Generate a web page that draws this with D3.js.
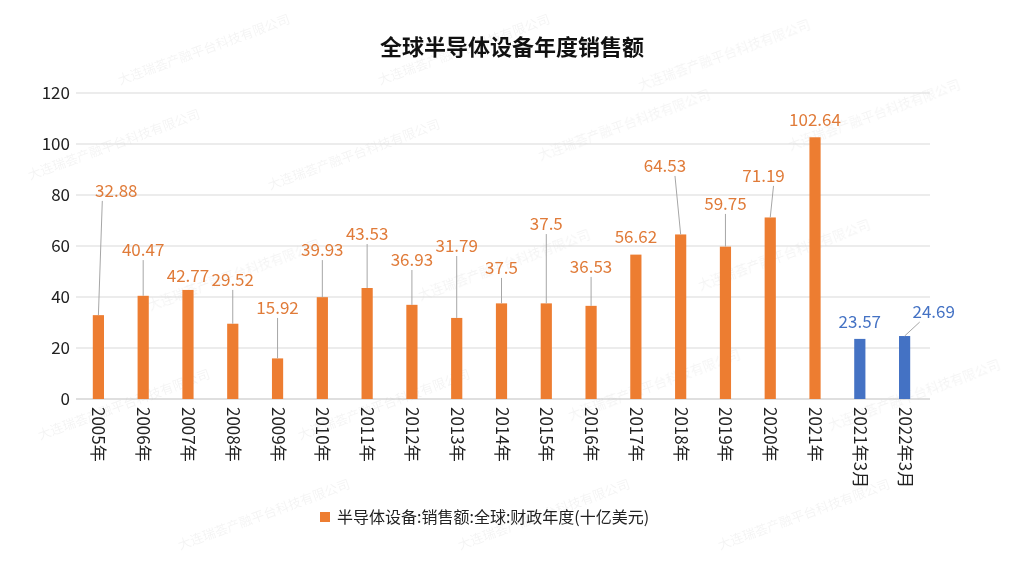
<!DOCTYPE html>
<html><head><meta charset="utf-8">
<script src="https://cdn.jsdelivr.net/npm/d3@7"></script>
<style>body{margin:0;background:#fff}text{font-family:"Noto Sans CJK SC","Noto Sans",sans-serif}</style>
</head><body><svg id="c" width="1024" height="576"></svg>
<script>
const categories=["2005年","2006年","2007年","2008年","2009年","2010年","2011年","2012年","2013年","2014年","2015年","2016年","2017年","2018年","2019年","2020年","2021年","2021年3月","2022年3月"];
const values=[32.88,40.47,42.77,29.52,15.92,39.93,43.53,36.93,31.79,37.5,37.5,36.53,56.62,64.53,59.75,71.19,102.64,23.57,24.69];
const yTicks=[0,20,40,60,80,100,120];
// label placement (value units / band units)
const labelY=[81.6,58.4,48.2,46.7,35.7,58.4,64.7,54.5,60,51.4,68.6,51.8,63.5,91.4,76.5,87.5,109.4,30.2,34.1];
const labelDX=[0.4,0,0,0,0,0,0,0,0,0,0,0,0,-0.35,0,-0.15,0,0,0.65];
const svg=d3.select("#c");
const x=d3.scaleBand().domain(categories).range([76,927]).paddingInner(0.75).paddingOuter(0.375);
const y=d3.scaleLinear().domain([0,120]).range([399,93]);
// watermark
const wm=svg.append("g").attr("fill","#000").attr("opacity",0.045).attr("font-size",13).attr("font-family","serif");
[[120,85],[380,85],[640,90],[30,180],[270,190],[540,160],[790,150],[150,310],[420,300],[700,290],[40,440],[300,440],[570,420],[830,430],[180,550],[460,550],[720,550]].forEach(p=>wm.append("text").attr("transform",`translate(${p[0]},${p[1]}) rotate(-20)`).text("大连瑞荟产融平台科技有限公司"));
svg.append("text").attr("x",512).attr("y",55).attr("text-anchor","middle").attr("font-size",22).attr("font-weight","bold").attr("fill","#111").text("全球半导体设备年度销售额");
svg.append("g").selectAll("line").data(yTicks).join("line").attr("x1",76).attr("x2",930).attr("y1",d=>y(d)).attr("y2",d=>y(d)).attr("stroke",d=>d==0?"#bfbfbf":"#d9d9d9");
svg.append("g").selectAll("text").data(yTicks).join("text").attr("x",70).attr("y",d=>y(d)+6).attr("text-anchor","end").attr("font-size",17).attr("fill","#222").text(d=>d);
const col=i=>i>=17?"#4472C4":"#ED7D31";
svg.append("g").selectAll("rect").data(values).join("rect").attr("x",(d,i)=>x(categories[i])).attr("width",x.bandwidth()).attr("y",d=>y(d)).attr("height",d=>y(0)-y(d)).attr("fill",(d,i)=>col(i));
const step=x.step();
values.forEach((v,i)=>{
  const cx=x(categories[i])+x.bandwidth()/2, lx=cx+labelDX[i]*step, ly=y(labelY[i]);
  if(ly+12<y(v)-4 && (Math.abs(lx-cx)>1||y(v)-ly>30)) svg.append("line").attr("x1",lx+(lx<cx?10:lx>cx?-14:0)).attr("y1",ly+10).attr("x2",cx).attr("y2",y(v)).attr("stroke","#a6a6a6");
  svg.append("text").attr("x",lx).attr("y",ly+6).attr("text-anchor","middle").attr("font-size",17).attr("fill",i>=17?"#4472C4":"#E07B39").text(v);
});
categories.forEach((c,i)=>{
  const cx=x(c)+x.bandwidth()/2;
  svg.append("text").attr("transform",`translate(${cx-6},407) rotate(90)`).attr("font-size",17).attr("fill","#222").text(c);
});
svg.append("rect").attr("x",320).attr("y",512).attr("width",10).attr("height",10).attr("fill","#ED7D31");
svg.append("text").attr("x",337).attr("y",523).attr("font-size",16).attr("fill","#222").text("半导体设备:销售额:全球:财政年度(十亿美元)");
</script></body></html>
